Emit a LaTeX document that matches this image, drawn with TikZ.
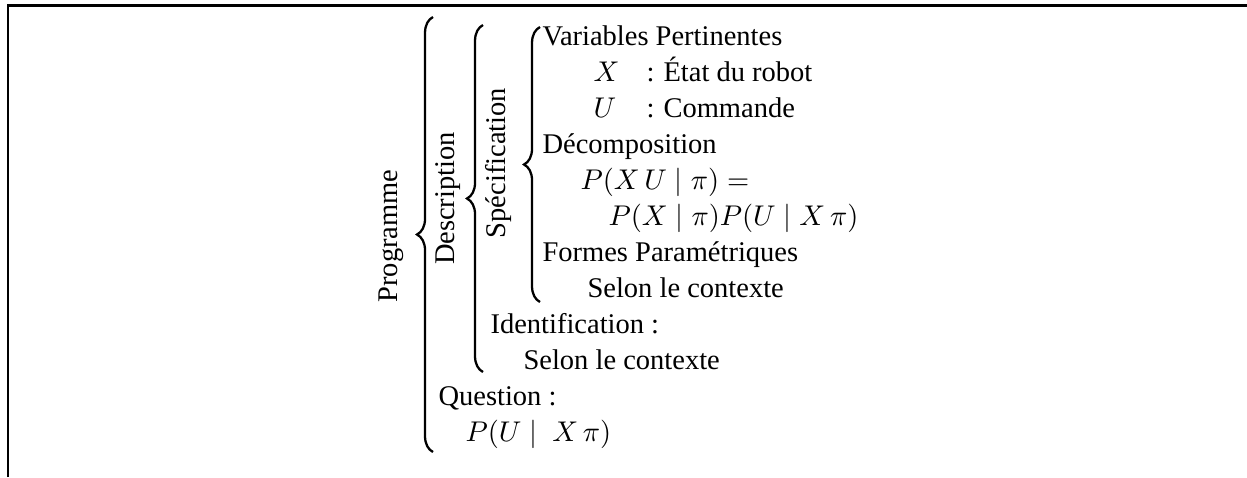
\documentclass[tikz,border=0pt]{standalone}
\usepackage[no-math]{fontspec}
\setmainfont{Liberation Serif}
\usepackage{tikz}
\usetikzlibrary{decorations.pathreplacing}

\tikzset{
    ligne/.style={anchor=base west, inner sep=0pt},
    titre/.style={rotate=90, inner sep=0pt},
    accolade/.style={decorate, decoration={brace, amplitude=5.6pt}, line width=0.8pt}
}

\begin{document}
\begin{tikzpicture}[x=0.3509pt, y=-0.3509pt, font=\fontsize{10}{12}\selectfont]
        \useasboundingbox (0,0) rectangle (1247,477);

        % Frame: top and left edges
        \coordinate (coinBas) at (8,477);
        \coordinate (coin) at (8,5.5);
        \coordinate (coinDroit) at (1247,5.5);
        \draw[line width=0.8pt] (coinBas) -- (coin) -- (coinDroit);

        % Rotated titles
        \node[titre] (programme) at (391,236) {Programme};
        \node[titre] (description) at (448,198.5) {Description};
        \node[titre] (specification) at (499,163) {Spécification};

        % Braces, drawn upwards so they open to the right
        \coordinate (progHaut) at (433,17);
        \coordinate (progBas) at (433,452);
        \draw[accolade] (progBas) -- (progHaut);
        \coordinate (descHaut) at (483,25);
        \coordinate (descBas) at (483,372);
        \draw[accolade] (descBas) -- (descHaut);
        \coordinate (specHaut) at (540,27);
        \coordinate (specBas) at (540,302);
        \draw[accolade] (specBas) -- (specHaut);

        % Specification
        \node[ligne] (variables) at (542,45) {Variables Pertinentes};
        \node[ligne] (varX) at (593,81) {$X$};
        \node[ligne] (deuxPtsX) at (646,81) {:};
        \node[ligne] (etat) at (663,81) {État du robot};
        \node[ligne] (varU) at (593,117) {$U$};
        \node[ligne] (deuxPtsU) at (646,117) {:};
        \node[ligne] (commande) at (663,117) {Commande};
        \node[ligne] (decomposition) at (542,153) {Décomposition};
        \node[ligne] (jointe) at (580,189) {$P(X\,U \mid \pi) =$};
        \node[ligne] (produit) at (608,225) {$P(X \mid \pi)P(U \mid X\,\pi)$};
        \node[ligne] (formes) at (542,261) {Formes Paramétriques};
        \node[ligne] (selonFormes) at (587,297) {Selon le contexte};

        % Identification and question
        \node[ligne] (identification) at (490,333) {Identification :};
        \node[ligne] (selonIdent) at (523,369) {Selon le contexte};
        \node[ligne] (question) at (438,405) {Question :};
        \node[ligne] (requete) at (465,441) {$P(U \mid\ X\,\pi)$};
    \end{tikzpicture}
\end{document}
